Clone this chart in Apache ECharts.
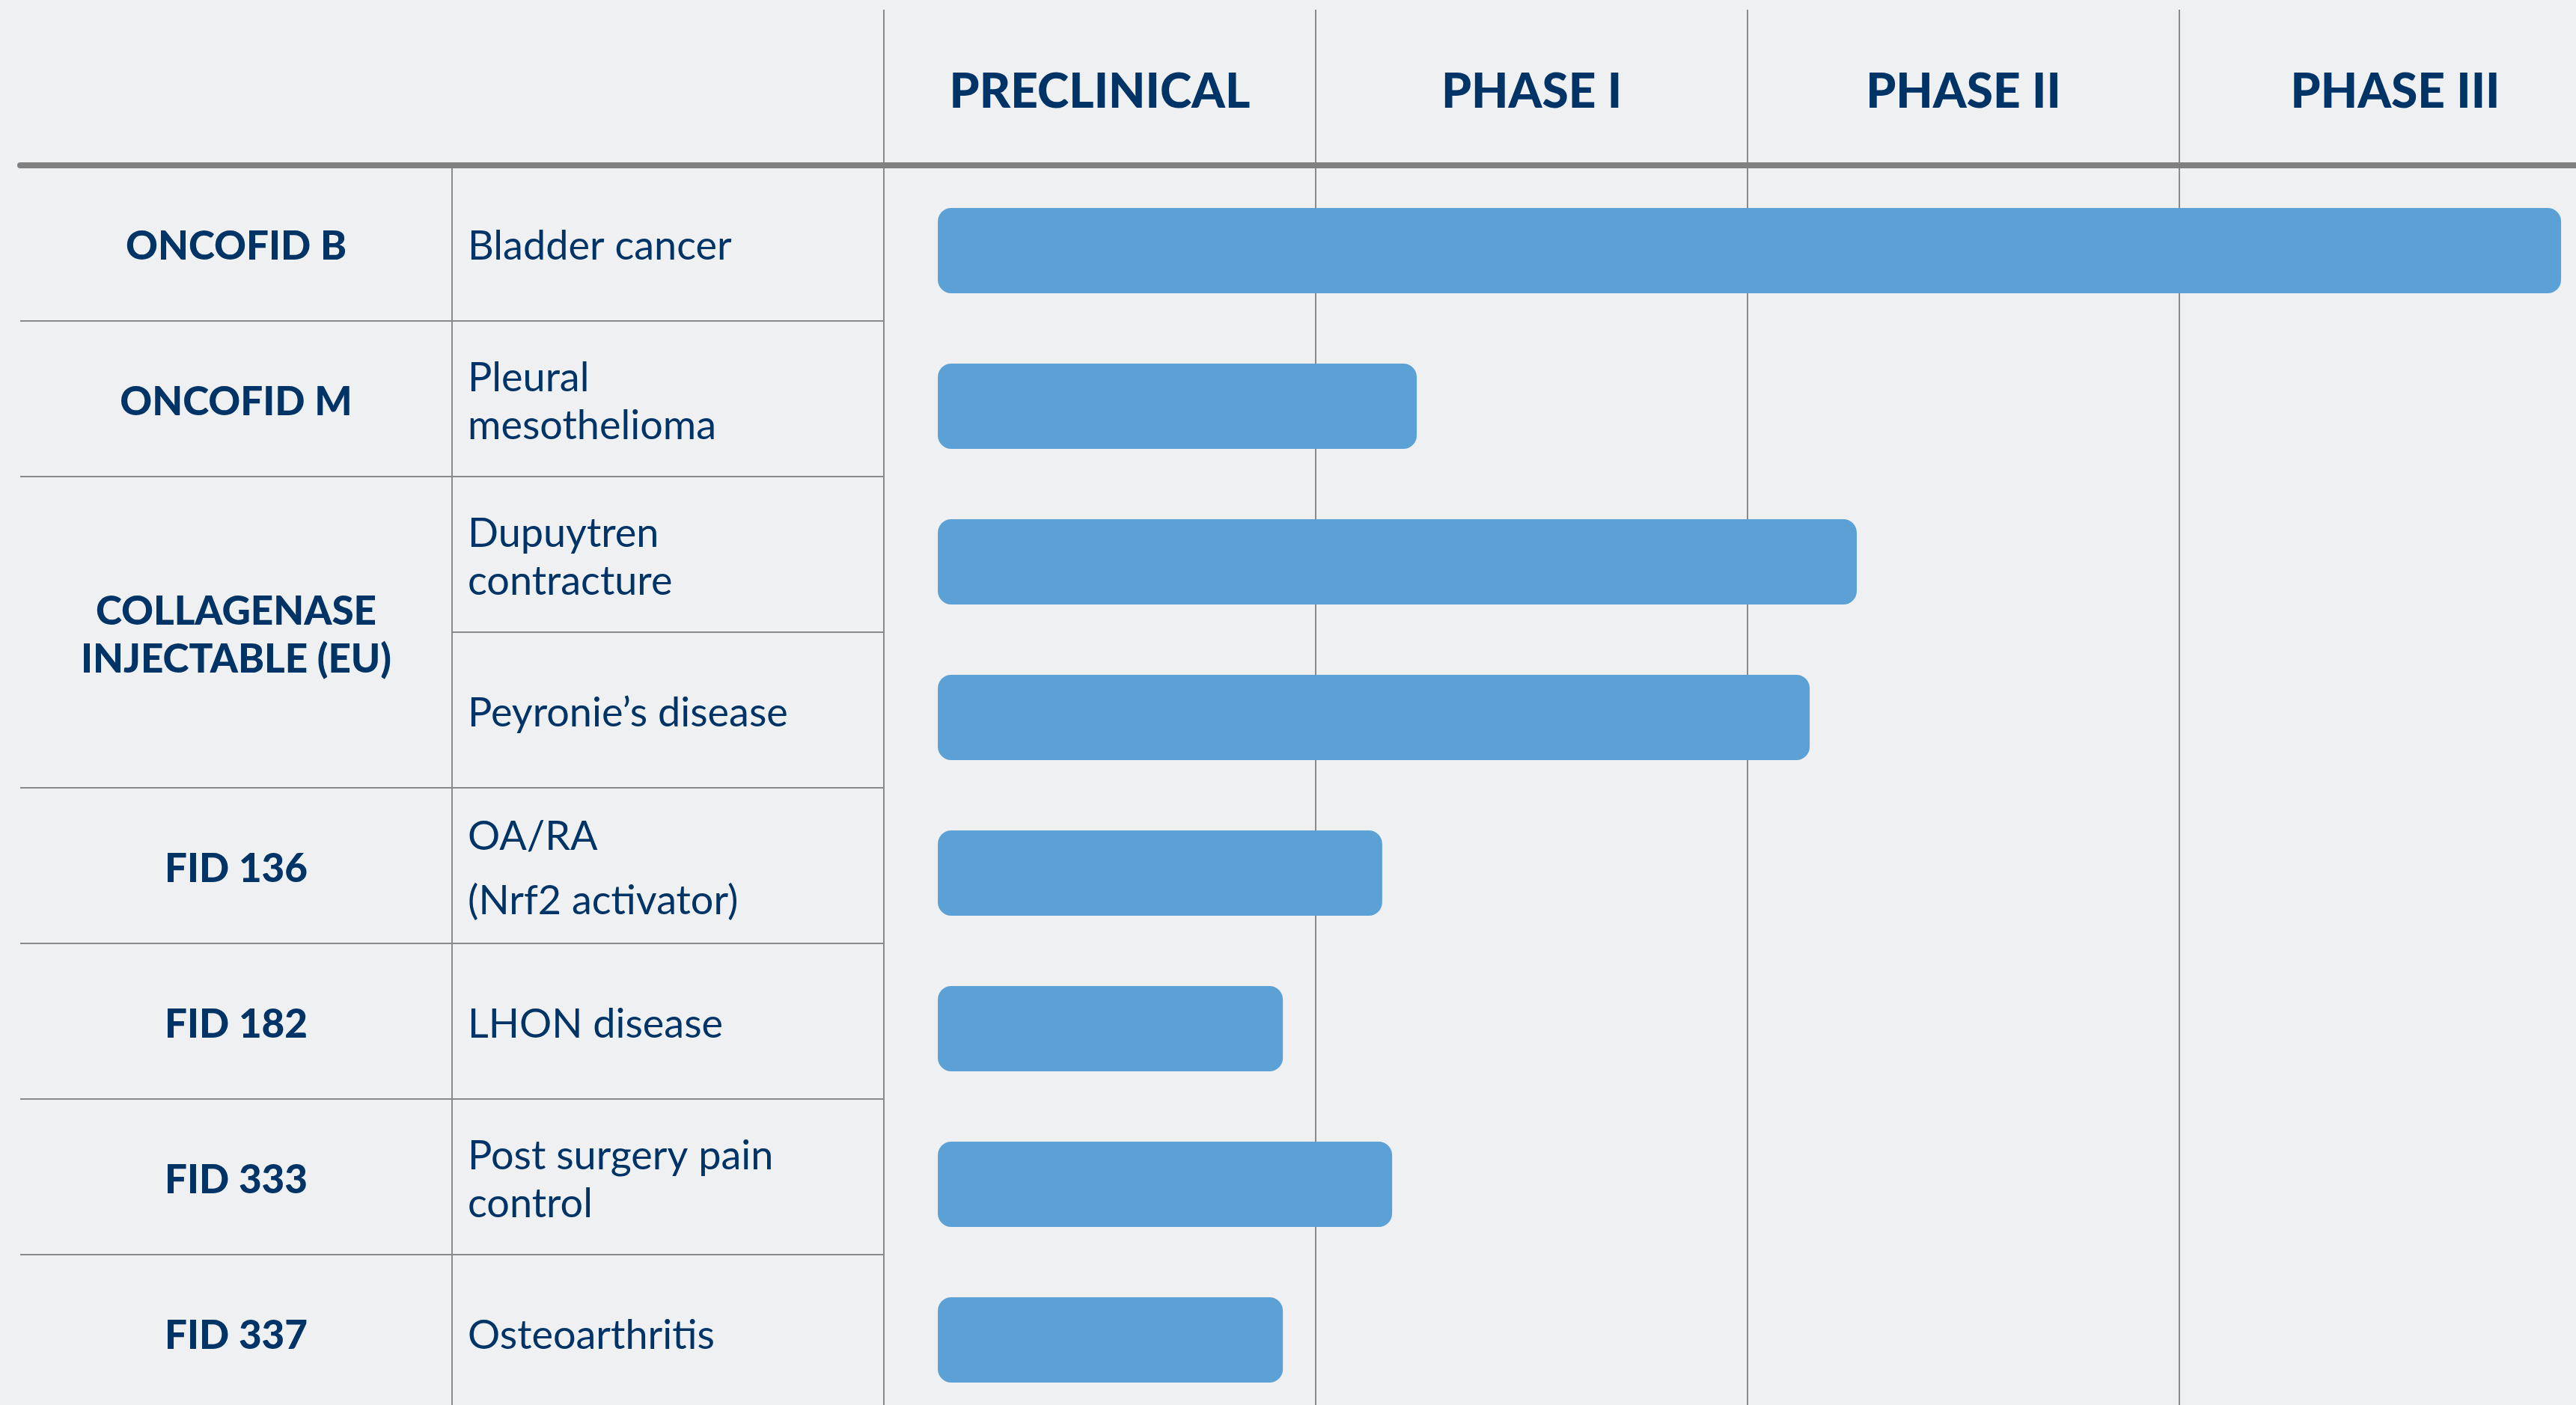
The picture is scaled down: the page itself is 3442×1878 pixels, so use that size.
<!DOCTYPE html>
<html>
<head>
<meta charset="utf-8">
<title>Pipeline</title>
<script src="https://cdn.jsdelivr.net/npm/echarts@6/dist/echarts.min.js"></script>
<style>
html, body { margin: 0; padding: 0; background: #eff0f2; }
#chart { width: 3442px; height: 1878px; }
</style>
</head>
<body>
<div id="chart"></div>
<script>
const phases = ['PRECLINICAL', 'PHASE I', 'PHASE II', 'PHASE III'];
const products = ['ONCOFID B', 'ONCOFID M', 'COLLAGENASE\nINJECTABLE (EU)', 'FID 136', 'FID 182', 'FID 333', 'FID 337'];
const productRows = [1, 1, 2, 1, 1, 1, 1];
const indications = [
	'Bladder cancer',
	'Pleural\nmesothelioma',
	'Dupuytren\ncontracture',
	'Peyronie\u2019s disease',
	'OA/RA\n(Nrf2 activator)',
	'LHON disease',
	'Post surgery pain\ncontrol',
	'Osteoarthritis',
];
// progress measured in phase columns (1 = one phase)
const barStart = 0.125;
const barEnd = [3.884, 1.234, 2.253, 2.144, 1.154, 0.924, 1.177, 0.924];

const NAVY = '#003366';
const LINE = '#8a8a8a';
const HEAVY = '"Lato Black", "Lato Heavy", Lato, sans-serif';
const W = 3442;
const COL = 577;
const ROW = 208;
const TABLE_TOP = 221;
const TEXT_SHIFT = 5;
const BAR_SHIFT = 10;
const PHASE_LEFT = 27 + COL * 2;
const nRows = indications.length;

// product label centres / row borders on the product column
const prodCentres = [];
const prodBorders = [];
let acc = 0;
productRows.forEach((span) => {
	prodCentres.push(acc + span / 2);
	acc += span;
	prodBorders.push(acc);
});
const prodName = {};
prodCentres.forEach((c, i) => { prodName[c] = products[i]; });

// the last phase column runs past the right edge of the picture
const phaseMax = (W - PHASE_LEFT) / COL;
const phaseBorders = phases.map((p, i) => i);

const chart = echarts.init(document.getElementById('chart'));

const off = { show: false };
const thickTop = {
	show: true,
	onZero: false,
	lineStyle: { color: '#808080', width: 8 },
};
const thinLine = { show: true, lineStyle: { color: LINE, width: 2 } };

const option = {
	backgroundColor: '#eff0f2',
	animation: false,
	grid: [
		// table lines
		{ left: 27, top: TABLE_TOP, width: COL, height: ROW * nRows, outerBoundsMode: 'none' },
		{ left: 27 + COL, top: TABLE_TOP, width: COL, height: ROW * nRows, outerBoundsMode: 'none' },
		// phases + bars
		{ left: PHASE_LEFT, top: TABLE_TOP - ROW + BAR_SHIFT, width: W - PHASE_LEFT, height: ROW * (nRows + 1), outerBoundsMode: 'none' },
		// table texts
		{ left: 27, top: TABLE_TOP + TEXT_SHIFT, width: COL, height: ROW * nRows, outerBoundsMode: 'none' },
		{ left: 27 + COL, top: TABLE_TOP + TEXT_SHIFT, width: COL, height: ROW * nRows, outerBoundsMode: 'none' },
		// top stub of the phase dividers
		{ left: PHASE_LEFT, top: TABLE_TOP - ROW, width: W - PHASE_LEFT, height: BAR_SHIFT + 2, outerBoundsMode: 'none' },
	],
	xAxis: [
		{ gridIndex: 0, type: 'value', position: 'top', axisLine: thickTop, axisTick: off, axisLabel: off, splitLine: off },
		{ gridIndex: 1, type: 'value', position: 'top', axisLine: thickTop, axisTick: off, axisLabel: off, splitLine: off },
		{
			gridIndex: 2,
			type: 'value',
			min: 0,
			max: phaseMax,
			axisLine: off,
			axisTick: { show: false, customValues: phaseBorders },
			axisLabel: off,
			splitLine: thinLine,
		},
		{
			gridIndex: 2,
			type: 'value',
			position: 'top',
			offset: -(ROW - BAR_SHIFT),
			min: 0,
			max: phaseMax,
			axisLine: thickTop,
			axisTick: off,
			splitLine: off,
			axisLabel: {
				customValues: phases.map((p, i) => i + 0.5),
				formatter: (v) => phases[Math.floor(v)],
				margin: 98,
				verticalAlign: 'middle',
				color: NAVY,
				fontFamily: HEAVY,
				fontWeight: 900,
				fontSize: 64,
			},
		},
		{ gridIndex: 3, type: 'value', show: false },
		{ gridIndex: 4, type: 'value', show: false },
		{
			gridIndex: 5,
			type: 'value',
			min: 0,
			max: phaseMax,
			axisLine: off,
			axisTick: { show: false, customValues: phaseBorders },
			axisLabel: off,
			splitLine: thinLine,
		},
	],
	yAxis: [
		{
			gridIndex: 0,
			type: 'value',
			min: 0,
			max: nRows,
			inverse: true,
			axisLine: { show: false, onZero: false },
			axisTick: { show: false, customValues: prodBorders },
			axisLabel: off,
			splitLine: thinLine,
		},
		{
			gridIndex: 1,
			type: 'category',
			inverse: true,
			data: indications,
			axisLine: { show: true, onZero: false, lineStyle: { color: LINE, width: 2 } },
			axisTick: off,
			axisLabel: off,
			splitLine: { show: true, interval: 0, lineStyle: { color: LINE, width: 2 } },
		},
		{
			gridIndex: 2,
			type: 'category',
			inverse: true,
			data: [''].concat(indications),
			axisLine: off,
			axisTick: off,
			axisLabel: off,
			splitLine: off,
		},
		{
			gridIndex: 3,
			type: 'value',
			min: 0,
			max: nRows,
			inverse: true,
			axisLine: { show: false, onZero: false },
			axisTick: off,
			splitLine: off,
			axisLabel: {
				customValues: prodCentres,
				formatter: (v) => prodName[v] || '',
				inside: true,
				margin: COL / 2,
				align: 'center',
				color: NAVY,
				fontFamily: HEAVY,
				fontWeight: 900,
				fontSize: 53,
				lineHeight: 64,
			},
		},
		{
			gridIndex: 4,
			type: 'category',
			inverse: true,
			data: indications.map((d, i) => (i === 4 ? { value: d, textStyle: { lineHeight: 86 } } : d)),
			axisLine: { show: false, onZero: false },
			axisTick: off,
			splitLine: off,
			axisLabel: {
				interval: 0,
				inside: true,
				margin: 21,
				align: 'left',
				color: NAVY,
				fontFamily: 'Lato',
				fontSize: 54,
				lineHeight: 64,
			},
		},
		{ gridIndex: 5, type: 'value', show: false },
	],
	series: [
		{
			type: 'bar',
			xAxisIndex: 2,
			yAxisIndex: 2,
			stack: 'phase',
			silent: true,
			barWidth: 114,
			itemStyle: { color: 'transparent' },
			data: [null].concat(barEnd.map(() => barStart)),
		},
		{
			type: 'bar',
			xAxisIndex: 2,
			yAxisIndex: 2,
			stack: 'phase',
			barWidth: 114,
			itemStyle: { color: '#5ba1d6', borderRadius: 18 },
			data: [null].concat(barEnd.map((v) => +(v - barStart).toFixed(3))),
		},
	],
};

chart.setOption(option);
window.addEventListener('resize', () => chart.resize());
</script>
</body>
</html>
